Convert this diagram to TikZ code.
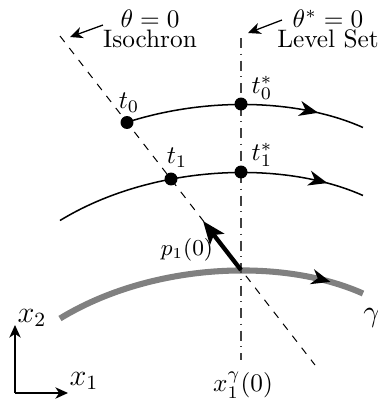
\documentclass[tikz,border=0pt]{standalone}
\usetikzlibrary{arrows.meta,decorations.markings}
\begin{document}
\begin{tikzpicture}[x=0.139mm,y=-0.139mm,
  thinline/.style={line width=0.6pt},
  dotnode/.style={circle,fill=black,inner sep=0pt,minimum size=1.8mm},
  midarrow/.style={postaction={decorate},decoration={markings,
     mark=at position #1 with {\arrow[black]{Stealth[length=7.5pt,width=6pt,inset=2.3pt]}}}},
  annot/.style={line width=0.5pt,-{Stealth[length=5pt,width=4.5pt,inset=1.5pt]}},
  axisline/.style={line width=0.5pt,-{Stealth[length=5pt,width=4.5pt,inset=1.5pt]}},
  gammaline/.style={line width=2.4pt,draw=black!50},
  lbl/.style={inner sep=1pt}]
\useasboundingbox (0,0) rectangle (378,401);

% reference coordinates
\coordinate (isoTop) at (60,36);
\coordinate (isoBot) at (315,365);
\coordinate (lsTop) at (241,38);
\coordinate (lsBot) at (241,360);
\coordinate (xg) at (241,270);
\coordinate (ptip) at (203,221);

% gamma (periodic orbit)
\draw[gammaline,midarrow=0.89] (60,318.5) .. controls (150,263.5) and (280,256.5) .. (363,293.5);

% isochron and level set
\draw[dashed,line width=0.4pt] (isoTop) -- (isoBot);
\draw[dash pattern=on 4pt off 2.2pt on 0.5pt off 2.2pt,line width=0.4pt,black!75] (lsTop) -- (lsBot);

% dots
\node[dotnode] (t0) at (127,122.5) {};
\node[dotnode] (t0s) at (241,104) {};
\node[dotnode] (t1) at (171,179) {};
\node[dotnode] (t1s) at (241,172) {};

% trajectories
\begin{scope}
\clip (127,0) rectangle (378,160);
\draw[thinline,midarrow=0.85] (60,152.5) .. controls (150,97.5) and (280,90.5) .. (363,127.5);
\end{scope}
\draw[thinline,midarrow=0.88] (60,220.5) .. controls (150,165.5) and (280,158.5) .. (363,195.5);

% gradient arrow
\draw[line width=1.7pt,-{Stealth[length=9pt,width=7pt,inset=2pt]}] (xg) -- (ptip);

% labels
\node[lbl] (t0lab) at (129,103) {$t_0$};
\node[lbl] (t0slab) at (262,88) {$t_0^*$};
\node[lbl] (t1lab) at (177,158) {$t_1$};
\node[lbl] (t1slab) at (262,155) {$t_1^*$};
\node[lbl,font=\small] (plab) at (187,250) {$p_1(0)$};
\node[lbl] (xglab) at (243,385) {$x_1^\gamma(0)$};
\node[lbl,font=\large] (glab) at (372,318) {$\gamma$};

\node[lbl,align=center] (isolab) at (150,29) {$\theta=0$\\[-4pt]Isochron};
\node[lbl,align=center] (lslab) at (328,29) {$\theta^*=0$\\[-4pt]Level Set};

\coordinate (isoArrS) at (103,25);
\coordinate (isoArrE) at (70,37);
\coordinate (lsArrS) at (282,20);
\coordinate (lsArrE) at (248,33);
\draw[annot] (isoArrS) -- (isoArrE);
\draw[annot] (lsArrS) -- (lsArrE);

% axes
\coordinate (O) at (15,393);
\coordinate (xax) at (68,393);
\coordinate (yax) at (15,325);
\draw[axisline] (O) -- (xax);
\draw[axisline] (O) -- (yax);
\node[lbl,font=\large] (x1lab) at (84,381) {$x_1$};
\node[lbl,font=\large] (x2lab) at (32,318) {$x_2$};
\end{tikzpicture}
\end{document}
